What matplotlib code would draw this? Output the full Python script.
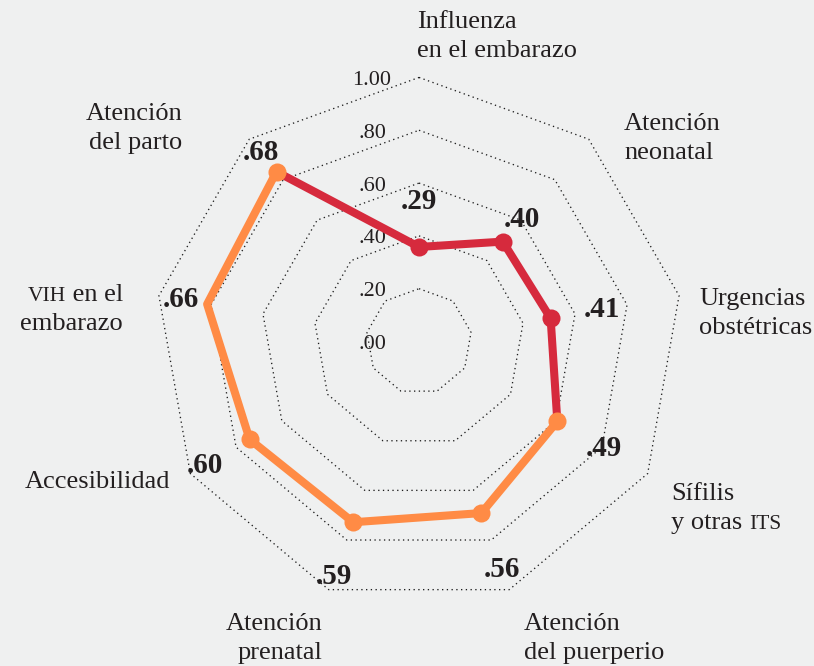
import numpy as np
import matplotlib
matplotlib.use("Agg")
import matplotlib.pyplot as plt
from matplotlib.transforms import offset_copy

# ---------------- data ----------------
categories = ["Influenza\nen el embarazo", "Atención\nneonatal", "Urgencias\nobstétricas",
              "Sífilis\ny otras ITS", "Atención\ndel puerperio", "Atención\nprenatal",
              "Accesibilidad", "VIH en el\nembarazo", "Atención\ndel parto"]
values = [0.29, 0.40, 0.41, 0.49, 0.56, 0.59, 0.60, 0.66, 0.68]
value_labels = [".29", ".40", ".41", ".49", ".56", ".59", ".60", ".66", ".68"]
ring_values = [0.0, 0.2, 0.4, 0.6, 0.8, 1.0]
ring_labels = [".00", ".20", ".40", ".60", ".80", "1.00"]
small_caps_words = ["VIH", "ITS"]   # set as small capitals in the original

red_path = [8, 0, 1, 2, 3]          # indices joined by the red line
orange_path = [3, 4, 5, 6, 7, 8]    # indices joined by the orange line
red_markers = [0, 1, 2]
orange_markers = [3, 4, 5, 6, 8]

# ---------------- style / layout ----------------
W, H = 814, 666
BG = "#EFF0F0"
TXT = "#231F20"
RED = "#D62A3D"
ORANGE = "#FF8B45"
SERIF = ["Liberation Serif", "DejaVu Serif"]
RING_SCALE = 0.81           # grid rings are drawn at 0.81 of the data radius
label_r = [0.43, 0.49, 0.57, 0.655, 0.745, 0.767, 0.758, 0.742, 0.755]
CAT_SIZE = 19
SC_SIZE = 15.5
LINE_GAP = 29               # px between baselines of two-line labels

# category label positions: x (px), y of first baseline (px from top), ha
cat_pos = [(417, 28, "left"), (624, 130, "left"), (699, 305, "left"),
           (671, 500, "left"), (524, 630, "left"), (322, 630, "right"),
           (170, 488, "right"), (123, 301, "right"), (182, 120, "right")]

n = len(values)
theta = np.arange(n) * 2 * np.pi / n

fig = plt.figure(figsize=(W / 100, H / 100), dpi=100, facecolor=BG)
cx, cy, R = 419, 341.5, 326
ax = fig.add_axes([(cx - R) / W, (H - cy - R) / H, 2 * R / W, 2 * R / H],
                  projection="polar")
ax.set_theta_zero_location("N")
ax.set_theta_direction(-1)
ax.set_ylim(0, 1)
ax.set_axis_off()

# dotted nonagon rings
closed = np.append(theta, theta[0])
for rv in ring_values[1:]:
    ax.plot(closed, [rv * RING_SCALE] * (n + 1), color="#1e1e1e", lw=0.95,
            linestyle=(0, (1.0, 2.6)), zorder=1, clip_on=False)

# ring labels, placed left of the vertical axis
tick_tr = offset_copy(ax.transData, fig=fig, x=-47, y=-3, units="dots")
for rv, lab in zip(ring_values, ring_labels):
    ax.text(0, rv * RING_SCALE, lab, transform=tick_tr, ha="center", va="center",
            fontsize=16, family=SERIF, color=TXT, zorder=2)

vals = np.array(values)
ax.plot(theta[red_path], vals[red_path], color=RED, lw=5.8, zorder=3,
        solid_capstyle="round", solid_joinstyle="round", clip_on=False)
ax.plot(theta[orange_path], vals[orange_path], color=ORANGE, lw=5.8, zorder=4,
        solid_capstyle="round", solid_joinstyle="round", clip_on=False)
ax.plot(theta[red_markers], vals[red_markers], "o", color=RED, ms=13, zorder=5,
        mec="none", clip_on=False)
ax.plot(theta[orange_markers], vals[orange_markers], "o", color=ORANGE, ms=13,
        zorder=5, mec="none", clip_on=False)

# value labels
for t, r, lab in zip(theta, label_r, value_labels):
    ax.text(t, r, lab, ha="center", va="center", fontsize=21, fontweight="bold",
            family=SERIF, color=TXT, zorder=6)

# category labels (one text per line, small caps words set smaller)
renderer = fig.canvas.get_renderer()


def put(x_px, y_px, s, size, ha):
    return fig.text(x_px / W, 1 - y_px / H, s, ha=ha, va="baseline", fontsize=size,
                    family=SERIF, color=TXT)


def width_px(s, size):
    t = put(0, 0, s, size, "left")
    w = t.get_window_extent(renderer).width
    t.remove()
    return w


for (x, y, ha), lab in zip(cat_pos, categories):
    for k, line in enumerate(lab.split("\n")):
        yy = y + k * LINE_GAP
        words = line.split(" ")
        sc = [w for w in words if w in small_caps_words]
        if not sc:
            put(x, yy, line, CAT_SIZE, ha)
            continue
        word = sc[0]
        i = line.index(word)
        pre, post = line[:i], line[i + len(word):]
        parts = [(pre, CAT_SIZE), (word, SC_SIZE), (post, CAT_SIZE)]
        parts = [p for p in parts if p[0]]
        widths = [width_px(p, s) for p, s in parts]
        total = sum(widths)
        x0 = x if ha == "left" else x - total
        for (p, s), w in zip(parts, widths):
            put(x0, yy, p, s, "left")
            x0 += w

fig.savefig("out.png", dpi=100, facecolor=BG)
